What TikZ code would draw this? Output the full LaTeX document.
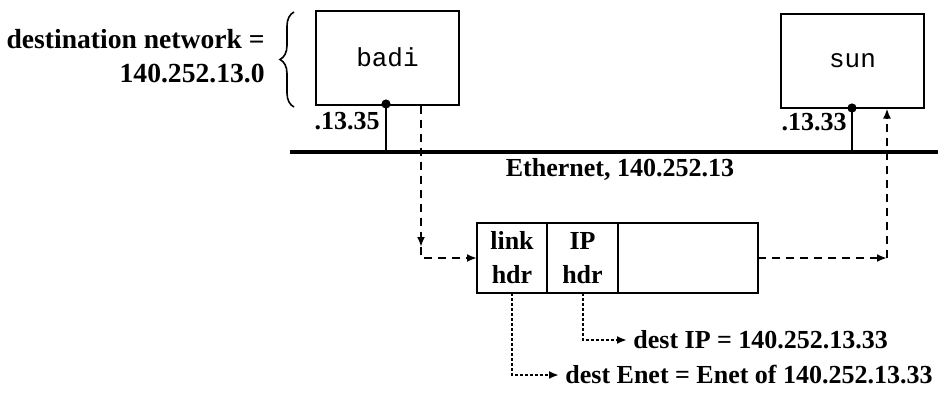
\documentclass[tikz,border=0pt]{standalone}
\usepackage{fontspec}
\setmainfont{Liberation Serif}
\setmonofont{Liberation Mono}
\usetikzlibrary{positioning,decorations.pathreplacing,arrows.meta}

\tikzset{
  host/.style={draw,line width=1pt,minimum width=71.5pt,minimum height=47pt,
    font=\ttfamily\fontsize{13}{15}\selectfont},
  hdr/.style={draw,line width=1pt,minimum height=35pt,inner sep=0pt,outer sep=0pt,
    align=center,font=\bfseries\fontsize{13}{17}\selectfont},
  lbl/.style={font=\bfseries\fontsize{13}{17}\selectfont,inner sep=1pt},
  flow/.style={line width=1pt,dash pattern=on 4pt off 3pt,-{Latex[length=5pt,width=4pt]}},
  field/.style={line width=1pt,dash pattern=on 1.5pt off 1pt,-{Latex[length=5pt,width=4pt]}}
}

\begin{document}
\begin{tikzpicture}[x=0.5pt,y=-0.5pt]
  \path[use as bounding box] (0,0) rectangle (938,392);

	% Hosts
	\node[host] (badi) at (387.5,57.5) {badi};
	\node[host] (sun) at (852.5,60.5) {sun};

	% Ethernet
	\coordinate (ethL) at (290,152);
	\coordinate (ethR) at (938,152);
	\draw[line width=2pt] (ethL) -- (ethR);
	\node[lbl] (ethlbl) at (620,169) {Ethernet, 140.252.13};

	% Interfaces
	\coordinate (badiif) at (386,104);
	\coordinate (sunif) at (852,108);
	\draw[line width=1.2pt] (badiif) -- (badiif |- ethL);
	\draw[line width=1.2pt] (sunif) -- (sunif |- ethL);
	\fill (badiif) circle (2.3pt);
	\fill (sunif) circle (2.3pt);
	\node[lbl,anchor=east] (badiaddr) at (382,121) {.13.35};
	\node[lbl,anchor=east] (sunaddr) at (849,122) {.13.33};

	% Destination network
	\coordinate (brB) at (294,107);
	\coordinate (brT) at (294,12);
	\draw[line width=0.8pt,decorate,decoration={brace,amplitude=7pt}] (brB) -- (brT);
	\node[lbl,anchor=east,align=right,font=\bfseries\fontsize{13.8}{17}\selectfont] (destnet) at (267,56) {destination network =\\140.252.13.0};

	% Frame
	\node[hdr,minimum width=35pt] (link) at (512,258) {link\\hdr};
	\node[hdr,minimum width=35.5pt,right=0pt of link] (ip) {IP\\hdr};
	\node[hdr,minimum width=70pt,right=0pt of ip] (data) {};

	% Path of the frame
	\coordinate (down1) at (421,247);
	\coordinate (turn2) at (887,258);
	\draw[flow] (badi.south -| down1) -- (down1);
	\draw[flow] (down1) |- (link.west);
	\draw[flow] (data.east) -- (turn2);
	\draw[flow] (turn2) -- (sun.south -| turn2);

	% Header fields
	\node[lbl,anchor=west,inner sep=3pt] (destip) at (627,340) {dest IP = 140.252.13.33};
	\node[lbl,anchor=west,inner sep=3pt] (destenet) at (559,375) {dest Enet = Enet of 140.252.13.33};
	\draw[field] (ip.south) |- (destip.west);
	\draw[field] (link.south) |- (destenet.west);
\end{tikzpicture}
\end{document}
